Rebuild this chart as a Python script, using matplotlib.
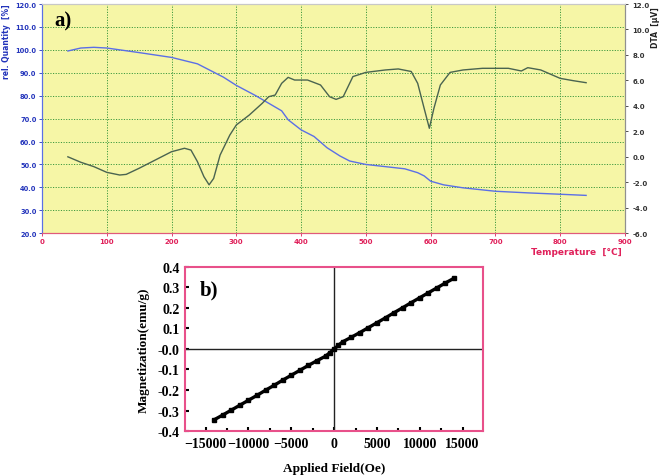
import numpy as np
import matplotlib.pyplot as plt

# ---- panel a) TG / DTA data ----
tg_temp = [40, 60, 80, 100, 150, 200, 240, 260, 280, 300, 330, 350, 370, 380, 400, 420, 440,
           460, 475, 500, 560, 580, 590, 600, 620, 650, 700, 750, 800, 840]
tg_val = [99.5, 100.8, 101.1, 100.8, 98.8, 96.7, 93.9, 91.0, 88.1, 84.5, 80.0, 76.7, 73.4, 69.5,
          65.1, 62.2, 57.3, 53.7, 51.5, 50.0, 48.1, 46.4, 45.0, 42.7, 41.1, 39.8, 38.3, 37.6,
          37.0, 36.5]

dta_temp = [40, 60, 80, 100, 120, 130, 150, 180, 200, 220, 230, 240, 250, 258, 265, 275, 290,
            300, 320, 340, 350, 360, 370, 380, 390, 410, 430, 444, 454, 465, 480, 500, 530,
            550, 570, 580, 590, 598, 605, 615, 630, 650, 680, 700, 720, 740, 750, 770, 800,
            820, 840]
dta_val = [0.0, -0.43, -0.77, -1.22, -1.43, -1.38, -0.9, -0.12, 0.4, 0.67, 0.53, -0.38, -1.56,
           -2.2, -1.7, 0.14, 1.71, 2.5, 3.28, 4.2, 4.72, 4.85, 5.77, 6.24, 6.03, 6.03, 5.64,
           4.72, 4.51, 4.72, 6.3, 6.63, 6.82, 6.9, 6.7, 5.77, 3.8, 2.24, 3.8, 5.64, 6.63, 6.82,
           6.95, 6.95, 6.95, 6.74, 7.0, 6.82, 6.16, 5.98, 5.82]

# ---- panel b) M-H data ----
field = [-14000, -13000, -12000, -11000, -10000, -9000, -8000, -7000, -6000, -5000, -4000,
         -3000, -2000, -1000, -500, 0, 500, 1000, 2000, 3000, 4000, 5000, 6000, 7000, 8000,
         9000, 10000, 11000, 12000, 13000, 14000]
magn = [-0.345, -0.322, -0.298, -0.274, -0.250, -0.226, -0.201, -0.177, -0.152, -0.128,
        -0.104, -0.080, -0.057, -0.035, -0.018, 0.0, 0.018, 0.035, 0.057, 0.080, 0.104, 0.128,
        0.152, 0.177, 0.201, 0.226, 0.250, 0.274, 0.298, 0.322, 0.345]

fig = plt.figure(figsize=(6.61, 4.77), dpi=100)

# panel a
ax = fig.add_axes([0.0635, 0.509, 0.882, 0.4805])
ax.set_facecolor('#f6f6a6')
ax.plot(tg_temp, tg_val, color='#5b6fe6', lw=1.0)
ax.set_xlim(0, 900)
ax.set_ylim(20, 120)
ax.set_xticks(np.arange(0, 901, 100))
ax.set_yticks(np.arange(20, 121, 10))
ax.set_yticklabels(['%.1f' % v for v in np.arange(20, 121, 10)])
ax.grid(True, color='#3f9a3f', ls=(0, (1.2, 1.5)), lw=0.7)
ax.tick_params(axis='y', colors='#2233bb', labelsize=4.8, length=2, width=0.6, pad=2)
ax.tick_params(axis='x', colors='#e0205a', labelsize=5, length=2, width=0.6, pad=1.5)
for lab in ax.get_xticklabels() + ax.get_yticklabels():
    lab.set_fontweight('bold')
ax.spines['left'].set_color('#5b6fe6')
ax.spines['bottom'].set_color('#e05a7a')
ax.spines['top'].set_color('#c8c8c8')
ax.spines['right'].set_color('#909090')
ax.set_ylabel('rel. Quantity  [%]', color='#2233bb', fontsize=5.5, fontweight='bold',
              va='center')
ax.yaxis.set_label_coords(-0.06, 0.84)
ax.text(0.995, -0.08, 'Temperature  [°C]', transform=ax.transAxes, ha='right', va='center',
        color='#e0205a', fontsize=6.5, fontweight='bold')
ax.text(0.022, 0.93, 'a)', transform=ax.transAxes, fontsize=15, fontweight='bold',
        family='Liberation Serif', va='center')

ax2 = ax.twinx()
ax2.plot(dta_temp, dta_val, color='#4a6450', lw=1.0)
ax2.set_ylim(-6, 12)
ax2.set_yticks(np.arange(-6, 12.1, 2))
ax2.set_yticklabels(['%.1f' % v for v in np.arange(-6, 12.1, 2)])
ax2.tick_params(axis='y', colors='#333333', labelsize=5, length=2, width=0.6)
for lab in ax2.get_yticklabels():
    lab.set_fontweight('bold')
ax2.spines['right'].set_color('#909090')
ax2.spines['left'].set_color('#5b6fe6')
ax2.spines['bottom'].set_color('#e05a7a')
ax2.spines['top'].set_color('#c8c8c8')
ax2.set_ylabel('DTA  [µV]', color='#222222', fontsize=5.5, fontweight='bold', rotation=90,
               va='center')
ax2.yaxis.set_label_coords(1.053, 0.90)

# panel b
serif = 'Liberation Serif'
bx = fig.add_axes([0.280, 0.0943, 0.451, 0.344])
bx.plot(field, magn, color='black', lw=2.4, marker='s', ms=2.5, zorder=3)
bx.axhline(0, color='#222222', lw=1.0)
bx.axvline(0, color='#222222', lw=1.0)
bx.set_xlim(-17400, 17400)
bx.set_ylim(-0.4, 0.4)
bx.set_xticks(np.arange(-15000, 15001, 5000))
bx.set_xticks(np.arange(-12500, 12501, 5000), minor=True)
bx.set_yticks(np.round(np.arange(-0.4, 0.41, 0.1), 1))
bx.set_yticklabels(['%.1f' % v for v in np.arange(-0.4, 0.41, 0.1)])
for s in bx.spines.values():
    s.set_color('#e8508a')
    s.set_linewidth(1.5)
bx.tick_params(direction='in', length=3, width=1.5, labelsize=10, color='black', pad=4)
bx.tick_params(which='minor', direction='in', length=2, width=1.5, color='black')
for lab in bx.get_xticklabels() + bx.get_yticklabels():
    lab.set_fontweight('bold')
    lab.set_family(serif)
bx.set_xlabel('Applied Field(Oe)', fontsize=9.5, fontweight='bold', family=serif, va='center')
bx.xaxis.set_label_coords(0.5, -0.225)
bx.set_ylabel('Magnetization(emu/g)', fontsize=9.5, fontweight='bold', family=serif,
              va='center')
bx.yaxis.set_label_coords(-0.14, 0.5)
bx.text(0.05, 0.86, 'b)', transform=bx.transAxes, fontsize=15, fontweight='bold',
        family=serif, va='center')

fig.savefig('out.png', dpi=100)
